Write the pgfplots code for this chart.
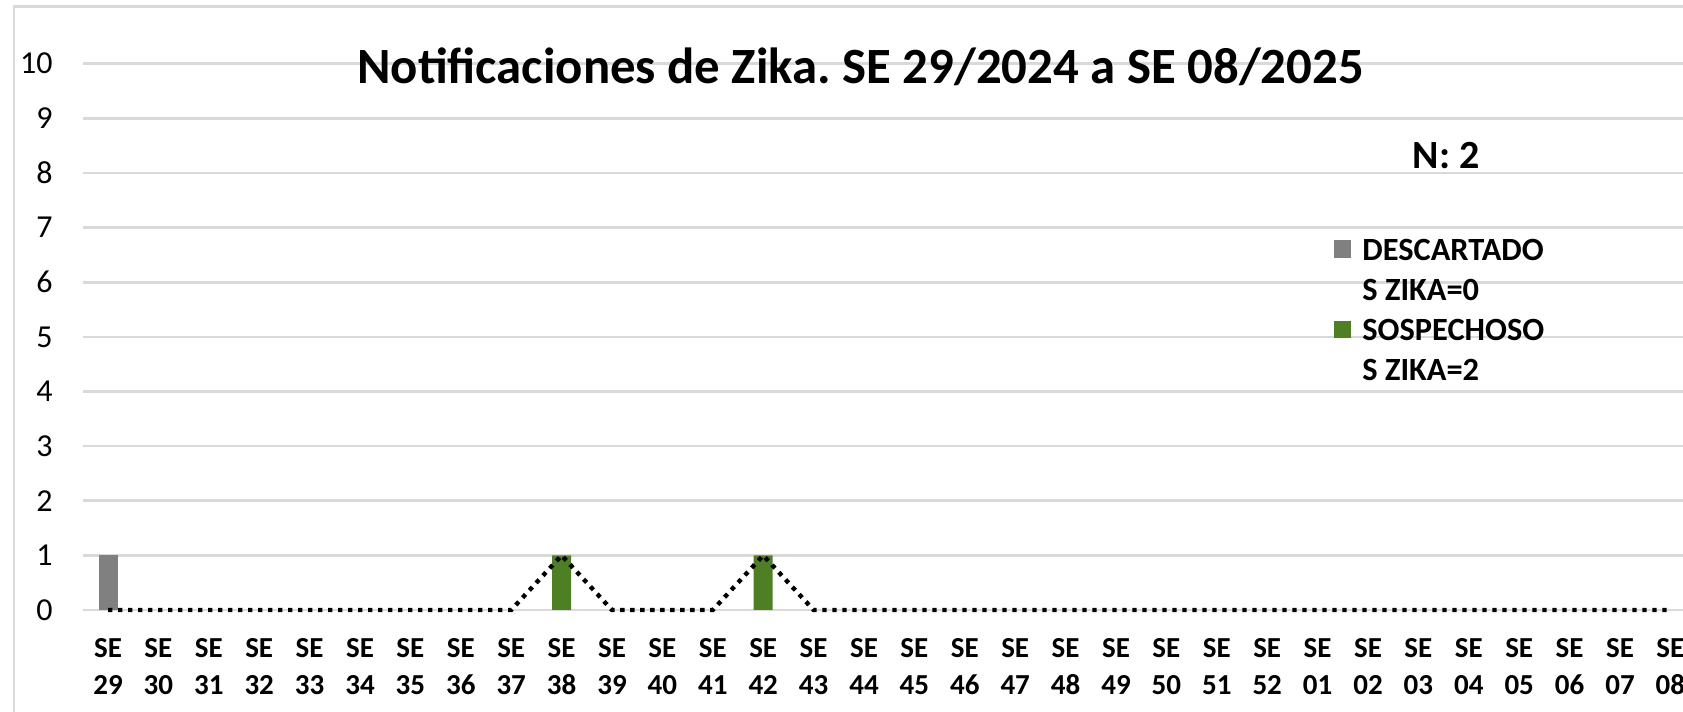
\documentclass[border=0pt]{standalone}
\usepackage{pgfplots}
\pgfplotsset{compat=1.18}
\usepackage{fontspec}
\setmainfont{Carlito}
\frenchspacing
\definecolor{gridc}{HTML}{D9D9D9}
\definecolor{barg}{HTML}{808080}
\definecolor{barv}{HTML}{4F7F24}
\begin{document}
\begin{tikzpicture}
\useasboundingbox (0pt,0pt) rectangle (841.5pt,356pt);
\fill[white] (0pt,0pt) rectangle (841.5pt,356pt);
\clip (0pt,0pt) rectangle (841.5pt,356pt);
\draw[gridc, line width=1.4pt] (7pt,-3pt) -- (7pt,352.75pt) -- (845pt,352.75pt);
\begin{axis}[
  at={(41.4pt,51pt)}, anchor=south west,
  scale only axis, width=806.4pt, height=273.15pt,
  xmin=-0.5, xmax=31.5, ymin=0, ymax=10,
  axis line style={draw=none},
  ytick={0,...,10},
  xtick={0,...,31},
  xticklabels={{SE\\29},{SE\\30},{SE\\31},{SE\\32},{SE\\33},{SE\\34},{SE\\35},{SE\\36},{SE\\37},{SE\\38},{SE\\39},{SE\\40},{SE\\41},{SE\\42},{SE\\43},{SE\\44},{SE\\45},{SE\\46},{SE\\47},{SE\\48},{SE\\49},{SE\\50},{SE\\51},{SE\\52},{SE\\01},{SE\\02},{SE\\03},{SE\\04},{SE\\05},{SE\\06},{SE\\07},{SE\\08}},
  major tick length=0pt,
  ymajorgrids,
  grid style={gridc, line width=1.3pt},
  /pgf/number format/assume math mode=true,
  yticklabel style={font=\fontsize{16}{19}\selectfont, anchor=east, inner sep=0pt, xshift=-14.9pt},
  xticklabel style={font=\bfseries\fontsize{14.5}{18.5}\selectfont, align=center, anchor=north, inner sep=0pt, yshift=-14pt},
  legend style={at={(axis description cs:0.7758,0.681)}, anchor=north west, draw=none, fill=none, inner sep=0pt, row sep=0pt, column sep=5.6pt,
    font=\bfseries\fontsize{16.2}{18}\selectfont,
    nodes={inner sep=0pt, text height=11pt, text depth=9.1pt}},
  legend cell align=left,
  clip=false,
]
\addplot[ybar, bar width=9.5pt, bar shift=0pt, fill=barg, draw=none,
  legend image code/.code={\fill[barg] (0pt,0.2pt) rectangle (8.4pt,9.1pt);}]
  coordinates {(0,1)};
\addlegendentry{DESCARTADO}
\addlegendimage{empty legend}
\addlegendentry{S ZIKA=0}
\addplot[ybar, bar width=9.5pt, bar shift=0pt, fill=barv, draw=none,
  legend image code/.code={\fill[barv] (0pt,0.2pt) rectangle (8.4pt,9.1pt);}]
  coordinates {(9,1) (13,1)};
\addlegendentry{SOSPECHOSO}
\addlegendimage{empty legend}
\addlegendentry{S ZIKA=2}
\addplot[black, line width=2.2pt, dash pattern=on 2.2pt off 2.8pt, forget plot]
  coordinates {(0,0) (1,0) (2,0) (3,0) (4,0) (5,0) (6,0) (7,0) (8,0) (9,1) (10,0) (11,0) (12,0) (13,1) (14,0) (15,0) (16,0) (17,0) (18,0) (19,0) (20,0) (21,0) (22,0) (23,0) (24,0) (25,0) (26,0) (27,0) (28,0) (29,0) (30,0) (31,0)};
\end{axis}
\node[anchor=base, inner sep=0pt, font=\bfseries\fontsize{25.4}{30}\selectfont] at (430.25pt,314.35pt) {Notificaciones de Zika. SE 29/2024 a SE 08/2025};
\node[anchor=base, inner sep=0pt, font=\bfseries\fontsize{20}{24}\selectfont] at (723pt,271.85pt) {N: 2};
\end{tikzpicture}
\end{document}
